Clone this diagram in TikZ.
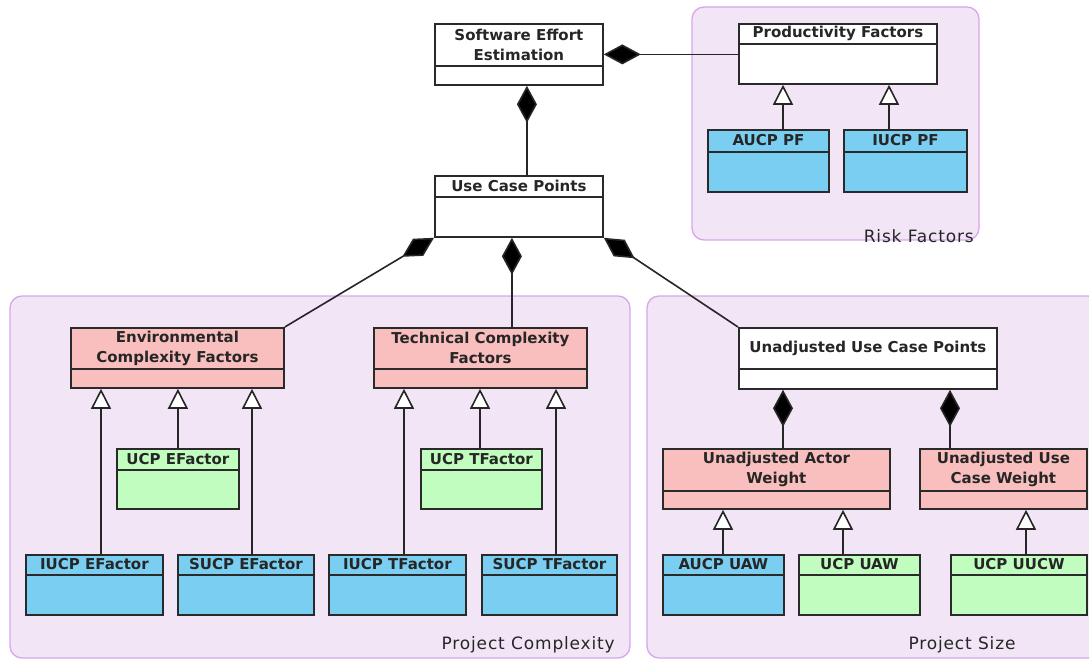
\documentclass[tikz,border=0pt]{standalone}
\usepackage{fontspec}
\setmainfont{DejaVu Sans}
\newfontfamily\lblfont[LetterSpace=5]{DejaVu Sans}
\usetikzlibrary{arrows.meta,calc}
\definecolor{pinkc}{HTML}{F8BFBE}
\definecolor{bluec}{HTML}{79CEF1}
\definecolor{greenc}{HTML}{C0FDBF}
\definecolor{pkgfill}{HTML}{F1E5F6}
\definecolor{pkgline}{HTML}{D8A6EA}
\definecolor{boxline}{HTML}{2A2A2A}
\tikzset{
 classbox/.style={draw=boxline, line width=1.8pt, rectangle, inner sep=0pt, anchor=north west},
 divider/.style={draw=boxline, line width=1.8pt},
 ctitle/.style={font=\bfseries\fontsize{15}{20}\selectfont, align=center, inner sep=0pt, text=black!85},
 pkg/.style={draw=pkgline, fill=pkgfill, line width=1.3pt, rounded corners=12pt},
 pkglabel/.style={font=\lblfont\fontsize{17}{19}\selectfont, inner sep=0pt, text=black!85},
 conn/.style={draw=black!85, line width=1.6pt},
 comp/.style={{Diamond[length=37pt,width=20pt,fill=black]}-},
 gen/.style={-{Triangle[length=20pt,width=20pt,fill=white]}},
}
\newcommand{\umlbox}[8]{%
 \node[classbox, fill=#7, minimum width=#4pt, minimum height=#5pt] (#1) at (#2,#3) {};
 \draw[divider] ([yshift=-#6pt]#1.north west) -- ([yshift=-#6pt]#1.north east);
 \node[ctitle] (#1-t) at ([yshift={-0.5*#6pt}]#1.north) {#8};
}
\begin{document}
\begin{tikzpicture}[x=1pt,y=-1pt]
\fill[white] (0,0) rectangle (1089,660);
\useasboundingbox (0,0) rectangle (1089,660);
% packages
\draw[pkg] (692,7) rectangle (979,240);
\node[pkglabel, anchor=east] (rflab) at (974,236) {Risk Factors};
\draw[pkg] (10,296) rectangle (630,658);
\node[pkglabel, anchor=east] (pclab) at (615,645) {Project Complexity};
\draw[pkg] (647,296) rectangle (1100,658);
\node[pkglabel] (pslab) at (962,645) {Project Size};
% classes
\umlbox{see}{434}{23}{168}{61}{43}{white}{Software Effort\\Estimation}
\umlbox{ucp}{434}{175}{168}{61}{22}{white}{Use Case Points}
\umlbox{pf}{738}{23}{198}{60}{21}{white}{Productivity Factors}
\umlbox{aucppf}{707}{129}{121}{62}{23}{bluec}{AUCP PF}
\umlbox{iucppf}{843}{129}{123}{62}{23}{bluec}{IUCP PF}
\umlbox{ecf}{70}{327}{213}{60}{42}{pinkc}{Environmental\\Complexity Factors}
\umlbox{ucpe}{116}{448}{122}{60}{22}{greenc}{UCP EFactor}
\umlbox{iucpe}{25}{554}{137}{60}{21}{bluec}{IUCP EFactor}
\umlbox{sucpe}{177}{554}{136}{60}{21}{bluec}{SUCP EFactor}
\umlbox{tcf}{373}{327}{213}{60}{42}{pinkc}{Technical Complexity\\Factors}
\umlbox{ucpt}{420}{448}{121}{60}{22}{greenc}{UCP TFactor}
\umlbox{iucpt}{328}{554}{137}{60}{21}{bluec}{IUCP TFactor}
\umlbox{sucpt}{481}{554}{135}{60}{21}{bluec}{SUCP TFactor}
\umlbox{uucp}{738}{327}{258}{61}{42}{white}{Unadjusted Use Case Points}
\umlbox{uaw}{662}{448}{227}{60}{43}{pinkc}{Unadjusted Actor\\Weight}
\umlbox{uucw}{919}{448}{167}{60}{43}{pinkc}{Unadjusted Use\\Case Weight}
\umlbox{aucpuaw}{662}{554}{121}{60}{21}{bluec}{AUCP UAW}
\umlbox{ucpuaw}{798}{554}{121}{60}{21}{greenc}{UCP UAW}
\umlbox{ucpuucw}{950}{554}{136}{60}{21}{greenc}{UCP UUCW}
% compositions
\draw[conn, comp] (see.east) -- (see.east -| pf.west);
\draw[conn, comp] ([xshift=8pt]see.south) -- ([xshift=8pt]see.south |- ucp.north);
\draw[conn, comp] (ucp.south west) -- (ecf.north east);
\draw[conn, comp] ([xshift=-7pt]ucp.south) -- ([xshift=-7pt]ucp.south |- tcf.north);
\draw[conn, comp] (ucp.south east) -- (uucp.north west);
\draw[conn, comp] ([xshift=45pt]uucp.south west) -- ([xshift=45pt]uucp.south west |- uaw.north);
\draw[conn, comp] ([xshift=212pt]uucp.south west) -- ([xshift=212pt]uucp.south west |- uucw.north);
% generalizations
\draw[conn, gen] ([xshift=76pt]aucppf.north west) -- ([xshift=76pt]aucppf.north west |- pf.south);
\draw[conn, gen] ([xshift=46pt]iucppf.north west) -- ([xshift=46pt]iucppf.north west |- pf.south);
\draw[conn, gen] ([xshift=76pt]iucpe.north west) -- ([xshift=76pt]iucpe.north west |- ecf.south);
\draw[conn, gen] (ucpe.north) -- (ucpe.north |- ecf.south);
\draw[conn, gen] ([xshift=75pt]sucpe.north west) -- ([xshift=75pt]sucpe.north west |- ecf.south);
\draw[conn, gen] ([xshift=76pt]iucpt.north west) -- ([xshift=76pt]iucpt.north west |- tcf.south);
\draw[conn, gen] ([xshift=60pt]ucpt.north west) -- ([xshift=60pt]ucpt.north west |- tcf.south);
\draw[conn, gen] ([xshift=75pt]sucpt.north west) -- ([xshift=75pt]sucpt.north west |- tcf.south);
\draw[conn, gen] ([xshift=61pt]aucpuaw.north west) -- ([xshift=61pt]aucpuaw.north west |- uaw.south);
\draw[conn, gen] ([xshift=45pt]ucpuaw.north west) -- ([xshift=45pt]ucpuaw.north west |- uaw.south);
\draw[conn, gen] ([xshift=76pt]ucpuucw.north west) -- ([xshift=76pt]ucpuucw.north west |- uucw.south);
\end{tikzpicture}
\end{document}
